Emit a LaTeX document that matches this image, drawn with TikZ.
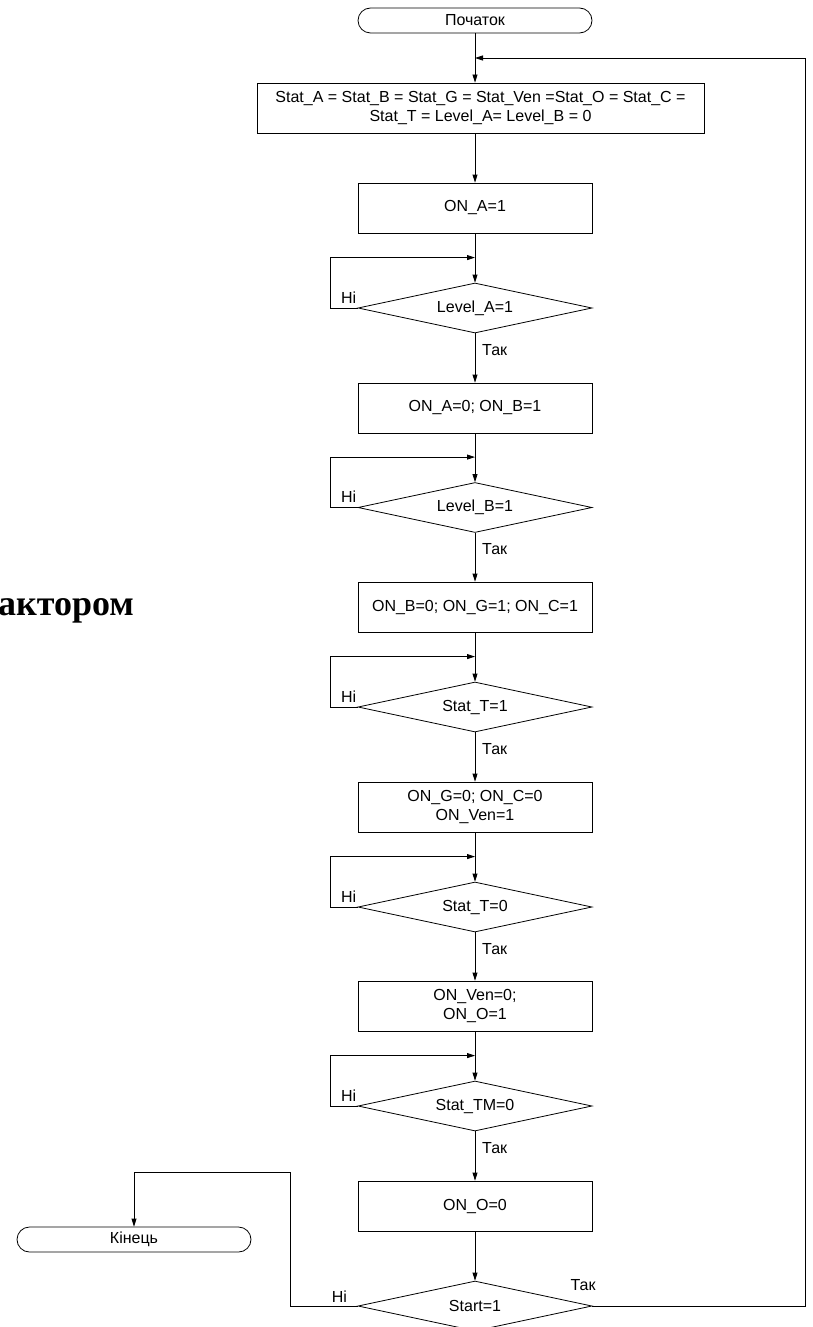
\documentclass[tikz,border=0pt]{standalone}
\usepackage{fontspec}
\setmainfont{Liberation Sans}
\newfontfamily\bigserif{Liberation Serif}
\usetikzlibrary{shapes.geometric,arrows.meta}
\tikzset{
  base/.style={draw, line width=0.8pt, inner sep=0pt, align=center, font=\fontsize{16}{19}\selectfont},
  proc/.style={base, rectangle, minimum width=234pt, minimum height=50pt},
  term/.style={base, rectangle, rounded corners=12.5pt, minimum width=234pt, minimum height=25pt},
  dec/.style={base, diamond, aspect=4.68, minimum width=234pt, minimum height=50pt},
  lbl/.style={font=\fontsize{16}{19}\selectfont, inner sep=0pt},
  line/.style={line width=0.8pt},
  arr/.style={line, -{Triangle[length=8pt,width=5pt]}}
}
\begin{document}
\begin{tikzpicture}[x=1pt,y=-1pt]
\useasboundingbox (0,0) rectangle (812,1327);

\node[anchor=base west, inner sep=0pt, font=\bigserif\bfseries\fontsize{36}{40}\selectfont] (title) at (-2,615) {актором};

\node[term] (start) at (475,20.5) {Початок};
\node[proc, minimum width=447pt] (r1) at (480.5,108) {Stat\_A = Stat\_B = Stat\_G = Stat\_Ven =Stat\_O = Stat\_C =\\Stat\_T = Level\_A= Level\_B = 0};
\node[proc] (r2) at (475,208) {ON\_A=1};
\node[dec] (d1) at (475,308) {Level\_A=1};
\node[proc] (r3) at (475,408) {ON\_A=0; ON\_B=1};
\node[dec] (d2) at (475,507.5) {Level\_B=1};
\node[proc] (r4) at (475,607) {ON\_B=0; ON\_G=1; ON\_C=1};
\node[dec] (d3) at (475,707) {Stat\_T=1};
\node[proc] (r5) at (475,807) {ON\_G=0; ON\_C=0\\ON\_Ven=1};
\node[dec] (d4) at (475,907) {Stat\_T=0};
\node[proc] (r6) at (475,1006) {ON\_Ven=0;\\ON\_O=1};
\node[dec] (d5) at (475,1106) {Stat\_TM=0};
\node[proc] (r7) at (475,1206) {ON\_O=0};
\node[dec] (d6) at (475,1306) {Start=1};
\node[term] (end) at (134,1239.5) {Кінець};

\coordinate (ret) at (805,58);

% main flow
\draw[arr] (start.south) -- (start.south |- r1.north);
\draw[arr] (r1.south -| r2.north) -- (r2.north);
\foreach \a/\b in {r2/d1,d1/r3,r3/d2,d2/r4,r4/d3,d3/r5,r5/d4,d4/r6,r6/d5,d5/r7,r7/d6}
  \draw[arr] (\a.south) -- (\b.north);

% no-loops
\foreach \d in {d1,d2,d3,d4,d5}{
  \draw[arr] (\d.west) -- ++(-27,0) |- ([yshift=25pt]\d.north);
  \node[lbl, anchor=base] at ([xshift=-9pt,yshift=5pt]\d.west) {Ні};
  \node[lbl, anchor=base west] at ([xshift=7pt,yshift=-22pt]\d.south) {Так};
}

% final decision
\draw[arr] (d6.east) -| (ret) -- (ret -| start.south);
\draw[arr] (d6.west) -- ++(-67,0) |- ([yshift=54pt]end.north) -- (end.north);
\node[lbl, anchor=base west] at ([xshift=-22pt,yshift=16pt]d6.east) {Так};
\node[lbl, anchor=base west] at ([xshift=-26pt,yshift=4pt]d6.west) {Ні};
\end{tikzpicture}
\end{document}
